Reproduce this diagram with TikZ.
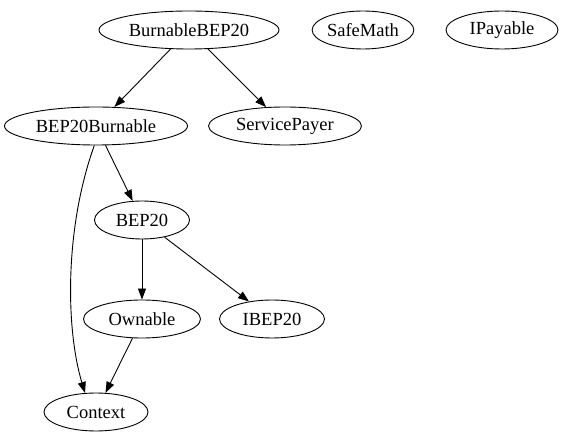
\documentclass[tikz,border=0pt]{standalone}
\usepackage{fontspec}
\setmainfont{Liberation Serif}
\usetikzlibrary{shapes.geometric,arrows.meta}
\begin{document}
\begin{tikzpicture}[x=1pt,y=-1pt,
  nd/.style={draw,ellipse,line width=0.9pt,inner sep=0pt,minimum height=38pt,font=\fontsize{18.5}{20}\selectfont},
  edge/.style={line width=0.9pt,-{Triangle[length=11pt,width=8pt]}}]
\useasboundingbox (0,0) rectangle (562,443);
\node[nd,minimum width=180pt] (burnable) at (189,30) {BurnableBEP20};
\node[nd,minimum width=100pt] (safemath) at (363,30) {SafeMath};
\node[nd,minimum width=112pt] (ipayable) at (502,30) {IPayable};
\node[nd,minimum width=183pt] (bepburn) at (96,126) {BEP20Burnable};
\node[nd,minimum width=153pt] (service) at (285,126) {ServicePayer};
\node[nd,minimum width=95pt] (bep20) at (142,220) {BEP20};
\node[nd,minimum width=117pt] (ownable) at (142,319) {Ownable};
\node[nd,minimum width=105pt] (ibep20) at (272,319) {IBEP20};
\node[nd,minimum width=104pt] (context) at (96,412) {Context};
\draw[edge] (burnable) -- (bepburn);
\draw[edge] (burnable) -- (service);
\draw[edge] (bepburn) -- (bep20);
\draw[edge] (bepburn.-95) .. controls (64,230) and (66,330) .. (context.120);
\draw[edge] (bep20) -- (ownable);
\draw[edge] (bep20) -- (ibep20);
\draw[edge] (ownable) -- (context);
\end{tikzpicture}
\end{document}
